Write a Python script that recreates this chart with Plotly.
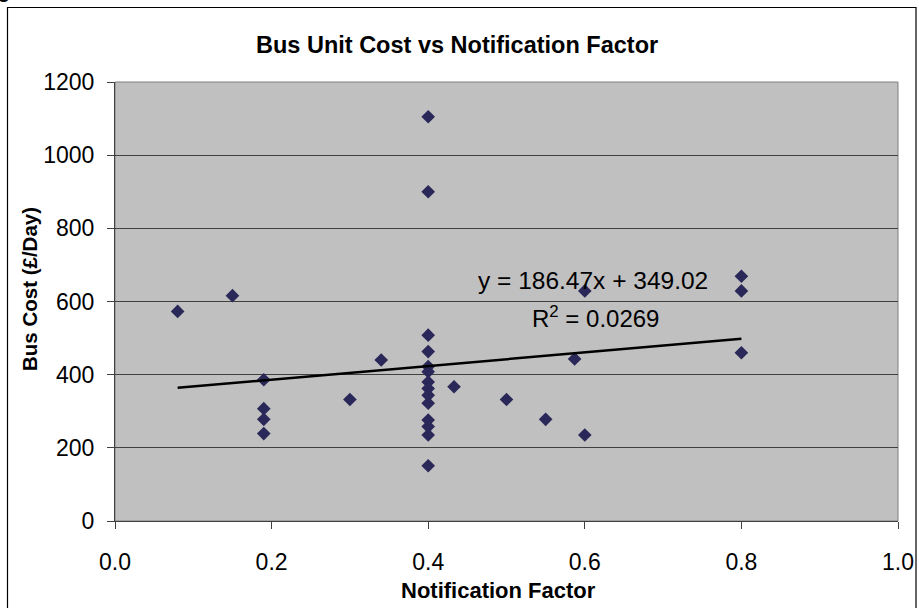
import plotly.graph_objects as go

# Data
factor = [0.08, 0.15, 0.19, 0.19, 0.19, 0.19, 0.30, 0.34,
          0.40, 0.40, 0.40, 0.40, 0.40, 0.40, 0.40, 0.40, 0.40, 0.40, 0.40, 0.40, 0.40, 0.40,
          0.433, 0.50, 0.55, 0.587, 0.60, 0.60, 0.80, 0.80, 0.80]
cost = [573, 616, 386, 307, 278, 239, 332, 440,
        1105, 900, 508, 463, 422, 408, 380, 362, 344, 322, 276, 258, 235, 151,
        367, 332, 278, 443, 629, 235, 669, 629, 460]

slope = 186.47
intercept = 349.02
r2 = 0.0269
trend_x = [min(factor), max(factor)]
trend_y = [slope * v + intercept for v in trend_x]

x_ticks = [0.0, 0.2, 0.4, 0.6, 0.8, 1.0]
y_ticks = [0, 200, 400, 600, 800, 1000, 1200]

W, H = 919, 608
L, R, T, B = 115, 898, 82, 521

def px(xp):
    return (xp - L) / (R - L)

def py(yp):
    return (B - yp) / (B - T)

FONT = "Liberation Sans, Arial, sans-serif"

fig = go.Figure()
fig.add_trace(go.Scatter(
    x=factor, y=cost, mode="markers",
    marker=dict(symbol="diamond", size=10.5, color="#2a2858", line=dict(width=0)),
    showlegend=False, hoverinfo="x+y"))
fig.add_trace(go.Scatter(
    x=trend_x, y=trend_y, mode="lines",
    line=dict(color="black", width=2.5), showlegend=False, hoverinfo="skip"))

fig.update_layout(
    width=W, height=H,
    margin=dict(l=L, r=W - R, t=T, b=H - B, autoexpand=False),
    paper_bgcolor="white", plot_bgcolor="#c0c0c0",
    font=dict(family=FONT, color="black"),
    xaxis=dict(range=[0, 1], tickvals=x_ticks, ticktext=[f"{v:.1f}" for v in x_ticks],
               showgrid=False, zeroline=False, showline=True, linecolor="#404040", linewidth=1,
               ticks="outside", ticklen=7, tickcolor="#404040", automargin=False,
               tickfont=dict(size=23, family=FONT), ticklabelstandoff=13),
    yaxis=dict(range=[0, 1200], tickvals=y_ticks,
               showgrid=True, gridcolor="#404040", gridwidth=1, zeroline=False,
               showline=True, linecolor="#404040", linewidth=1, automargin=False,
               ticks="outside", ticklen=7, tickcolor="#404040",
               tickfont=dict(size=23, family=FONT), ticklabelstandoff=8),
    shapes=[
        dict(type="rect", xref="paper", yref="paper", x0=0, x1=1, y0=0, y1=1,
             line=dict(color="#808080", width=1), layer="below"),
        dict(type="rect", xref="paper", yref="paper",
             x0=px(7.5), x1=px(916), y0=py(7.5), y1=py(640),
             line=dict(color="black", width=1.2), layer="above"),
    ],
    annotations=[
        dict(text="<b>Bus Unit Cost vs Notification Factor</b>", xref="paper", yref="paper",
             x=px(457), y=py(45), xanchor="center", yanchor="middle", showarrow=False,
             font=dict(size=23.5, family=FONT)),
        dict(text="<b>Notification Factor</b>", xref="paper", yref="paper",
             x=px(498), y=py(590), xanchor="center", yanchor="middle", showarrow=False,
             font=dict(size=22, family=FONT)),
        dict(text="<b>Bus Cost (£/Day)</b>", xref="paper", yref="paper",
             x=px(29), y=py(289), xanchor="center", yanchor="middle", showarrow=False,
             textangle=-90, font=dict(size=20.5, family=FONT)),
        dict(text=f"y = {slope:.2f}x + {intercept:.2f}", xref="paper", yref="paper",
             x=px(593), y=py(280), xanchor="center", yanchor="middle", showarrow=False,
             font=dict(size=24.5, family=FONT)),
        dict(text=f"R<sup>2</sup> = {r2:.4f}", xref="paper", yref="paper",
             x=px(595), y=py(317), xanchor="center", yanchor="middle", showarrow=False,
             font=dict(size=24, family=FONT)),
        dict(text="<b>Fig</b>", xref="paper", yref="paper",
             x=px(12), y=py(4), xanchor="right", yanchor="bottom", showarrow=False,
             font=dict(size=20, family=FONT)),
    ],
)

fig.write_html("out.html")
